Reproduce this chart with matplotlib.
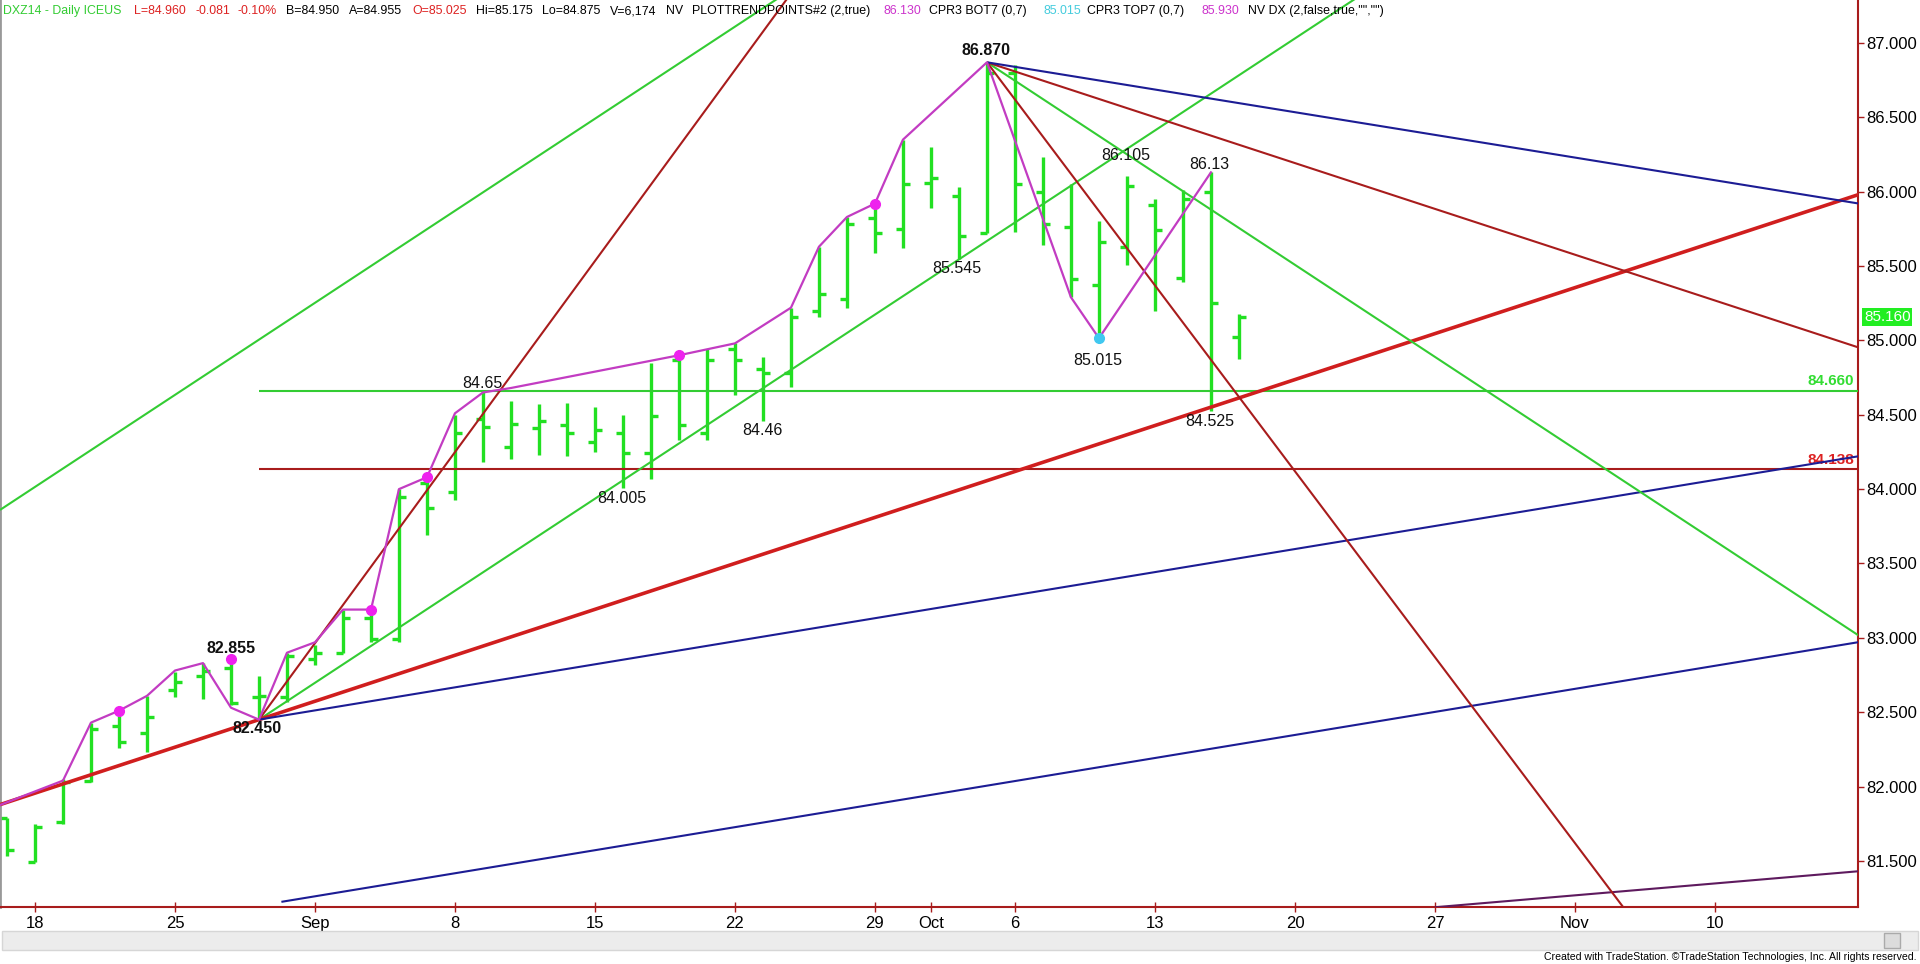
import matplotlib
matplotlib.use("Agg")
import matplotlib.pyplot as plt
import numpy as np
from matplotlib import font_manager
from matplotlib.font_manager import FontProperties
from matplotlib.patches import Rectangle

# ---- data (x = trading-day index, 0 = Mon Aug 18 2014) ----
bar_idx = list(range(-1, 44))
opens = [81.79, 81.49, 81.76, 82.04, 82.41, 82.36, 82.65, 82.74, 82.80, 82.60,
         82.60, 82.86, 82.90, 83.13, 82.99, 84.04, 83.98, 84.47, 84.28, 84.41,
         84.43, 84.32, 84.38, 84.24, 84.87, 84.38, 84.94, 84.81, 84.78, 85.20,
         85.28, 85.82, 85.75, 86.06, 85.97, 85.72, 86.80, 86.00, 85.76, 85.37,
         85.63, 85.91, 85.42, 86.00, 85.025]
highs = [81.79, 81.75, 82.05, 82.43, 82.51, 82.61, 82.77, 82.83, 82.84, 82.74,
         82.90, 82.95, 83.19, 83.17, 84.00, 84.07, 84.50, 84.65, 84.59, 84.57,
         84.58, 84.55, 84.50, 84.85, 84.88, 84.94, 84.98, 84.89, 85.22, 85.63,
         85.83, 85.92, 86.35, 86.30, 86.03, 86.87, 86.85, 86.23, 86.05, 85.80,
         86.105, 85.95, 86.01, 86.13, 85.175]
lows = [81.53, 81.49, 81.75, 82.03, 82.26, 82.23, 82.60, 82.59, 82.55, 82.45,
        82.57, 82.82, 82.90, 82.97, 82.97, 83.69, 83.93, 84.18, 84.20, 84.23,
        84.22, 84.25, 84.005, 84.07, 84.33, 84.33, 84.63, 84.46, 84.69, 85.16,
        85.22, 85.59, 85.62, 85.89, 85.545, 85.72, 85.73, 85.64, 85.29, 85.015,
        85.51, 85.20, 85.39, 84.525, 84.875]
closes = [81.57, 81.73, 82.03, 82.39, 82.30, 82.47, 82.70, 82.78, 82.56, 82.61,
          82.88, 82.90, 83.13, 82.99, 83.95, 83.87, 84.38, 84.42, 84.44, 84.46,
          84.38, 84.40, 84.24, 84.49, 84.43, 84.87, 84.87, 84.78, 85.16, 85.31,
          85.78, 85.72, 86.05, 86.09, 85.70, 86.80, 86.05, 85.78, 85.41, 85.66,
          86.04, 85.74, 85.95, 85.25, 85.16]

date_ticks = [0, 5, 10, 15, 20, 25, 30, 32, 35, 40, 45, 50, 55, 60]
date_labels = ["18", "25", "Sep", "8", "15", "22", "29", "Oct", "6", "13",
               "20", "27", "Nov", "10"]
price_ticks = [81.5, 82.0, 82.5, 83.0, 83.5, 84.0, 84.5, 85.0, 85.5, 86.0, 86.5, 87.0]

# swing line (zigzag) and pivot dots
swing_x = [-1.25, 1, 2, 3, 4, 5, 6, 7, 8, 9, 10, 11, 12, 13, 14, 15, 16, 17,
           23, 25, 27, 28, 29, 30, 31, 34, 37, 38, 42]
swing_y = [81.876, 82.04, 82.43, 82.51, 82.61, 82.78, 82.83, 82.53, 82.45, 82.90,
           82.97, 83.19, 83.19, 84.00, 84.08, 84.51, 84.65, 84.68,
           84.90, 84.98, 85.22, 85.63, 85.83, 85.92, 86.35, 86.87, 85.29, 85.015, 86.13]
dot_x = [3, 7, 12, 14, 23, 30]
dot_y = [82.51, 82.86, 83.19, 84.08, 84.90, 85.92]
low_dot_x = [38]
low_dot_y = [85.015]

# pivot labels: (index, price, text)
pivot_idx = [7, 8, 16, 21, 26, 33, 34, 39, 42, 38, 42]
pivot_price = [82.855, 82.45, 84.65, 84.005, 84.46, 85.545, 86.87, 86.105, 86.13, 85.015, 84.525]
pivot_text = ["82.855", "82.450", "84.65", "84.005", "84.46", "85.545", "86.870",
              "86.105", "86.13", "85.015", "84.525"]
pivot_bold = [True, True, False, False, False, False, True, False, False, False, False]

# trend lines: anchor index, anchor price, slope per bar, first index drawn
line_anchor_x = [8, -1.25, 8, 8, 8, 65.1, 65.1, 34, 34, 34, 34]
line_anchor_y = [82.45, 83.86, 82.45, 82.45, 82.45, 82.97, 81.43, 86.87, 86.87, 86.87, 86.87]
line_slope = [0.1238, 0.1238, 0.257, 0.0618, 0.031, 0.031, 0.016, -0.1238, -0.25, -0.0616, -0.0305]
line_start = [8, -1.25, 8, -1.25, 8, 8.8, 50, 34, 34, 34, 34]
line_color = ["#33cc33", "#33cc33", "#a81c1c", "#d01e1e", "#1c1c94", "#1c1c94",
              "#5e1a5e", "#33cc33", "#a81c1c", "#a81c1c", "#1c1c94"]
line_width = [1.5, 1.5, 1.5, 2.6, 1.5, 1.5, 1.5, 1.5, 1.5, 1.5, 1.5]

support_level = 84.660
resist_level = 84.138
last_price = 85.160

header = [
    (3, "DXZ14 - Daily ICEUS", "#33cc33"),
    (134, "L=84.960", "#dd2222"),
    (195, "-0.081", "#dd2222"),
    (237, "-0.10%", "#dd2222"),
    (286, "B=84.950", "black"),
    (349, "A=84.955", "black"),
    (412, "O=85.025", "#dd2222"),
    (476, "Hi=85.175", "black"),
    (542, "Lo=84.875", "black"),
    (610, "V=6,174", "black"),
    (666, "NV", "black"),
    (692, "PLOTTRENDPOINTS#2 (2,true)", "black"),
    (883, "86.130", "#cc33cc"),
    (929, "CPR3 BOT7 (0,7)", "black"),
    (1043, "85.015", "#44ccdd"),
    (1087, "CPR3 TOP7 (0,7)", "black"),
    (1202, "85.930", "#cc33cc"),
    (1248, 'NV DX (2,false,true,"","")', "black"),
]


def has_font(name):
    try:
        font_manager.findfont(FontProperties(family=name), fallback_to_default=False)
        return True
    except ValueError:
        return False


plt.rcParams["font.family"] = ["Liberation Sans", "DejaVu Sans"]
narrow = "Liberation Sans Narrow" if has_font("Liberation Sans Narrow") else "Liberation Sans"
hdr_size = 10 if narrow == "Liberation Sans Narrow" else 8.9

W, H = 1920, 964
fig = plt.figure(figsize=(W / 100, H / 100), dpi=100)
fig.patch.set_facecolor("white")
plot_bottom = 907
plot_right = 1858
ax = fig.add_axes([0, 1 - plot_bottom / H, plot_right / W, plot_bottom / H])

xmin, xmax = -1.25, 65.11
ax.set_xlim(xmin, xmax)
ax.set_ylim(81.19, 87.289)

# bars
w = 0.26
green = "#22e022"
ax.vlines(bar_idx, lows, highs, color=green, lw=2.4, zorder=2)
ax.hlines(opens, np.array(bar_idx) - w, bar_idx, color=green, lw=2.4, zorder=2)
ax.hlines(closes, bar_idx, np.array(bar_idx) + w, color=green, lw=2.4, zorder=2)

# horizontal levels
ax.hlines(support_level, 8, xmax, color="#33cc33", lw=1.5, zorder=3)
ax.hlines(resist_level, 8, xmax, color="#a81c1c", lw=1.5, zorder=3)

# trend lines
for ax0, ay0, s, st, c, lw in zip(line_anchor_x, line_anchor_y, line_slope,
                                   line_start, line_color, line_width):
    xs = np.array([st, xmax + 1])
    ax.plot(xs, ay0 + s * (xs - ax0), color=c, lw=lw, zorder=3, solid_capstyle="butt")

# swing line and pivots
ax.plot(swing_x, swing_y, color="#c23cc2", lw=1.6, zorder=4)
ax.plot(dot_x, dot_y, "o", color="#ee22ee", ms=7, zorder=5)
ax.plot(low_dot_x, low_dot_y, "o", color="#40c8f0", ms=7, zorder=5)

offsets = [(0, 11), (-2, -9), (-1, 9), (-1, -10), (-1, -10), (-2, -9), (-1, 12),
           (-1, 21), (-2, 8), (-1, -22), (-1, -10)]
for px, pp, t, b, (dx, dy) in zip(pivot_idx, pivot_price, pivot_text, pivot_bold, offsets):
    ax.annotate(t, (px, pp), xytext=(dx * 0.72, dy * 0.72), textcoords="offset points",
                ha="center", va="center", fontsize=11.5,
                fontweight="bold" if b else "normal", color="#111111", zorder=6)

# level labels on the right
ax.annotate(f"{support_level:.3f}", (xmax, support_level), xytext=(-3, 7),
            textcoords="offset points", ha="right", va="center", fontsize=11,
            fontweight="bold", color="#33dd33", zorder=6)
ax.annotate(f"{resist_level:.3f}", (xmax, resist_level), xytext=(-3, 6),
            textcoords="offset points", ha="right", va="center", fontsize=11,
            fontweight="bold", color="#dd2222", zorder=2.5)

# axes styling
axis_red = "#a81c1c"
ax.spines["top"].set_visible(False)
ax.spines["right"].set_color(axis_red)
ax.spines["right"].set_linewidth(1.5)
ax.spines["bottom"].set_color(axis_red)
ax.spines["bottom"].set_linewidth(1.5)
ax.spines["left"].set_color("#999999")
ax.spines["left"].set_linewidth(2)

ax.yaxis.tick_right()
ax.set_yticks(price_ticks)
ax.set_yticklabels([f"{v:.3f}" for v in price_ticks])
ax.tick_params(axis="y", right=True, left=False, length=4, width=1, color=axis_red,
               pad=2, labelsize=12, labelcolor="black")
ax.set_xticks(date_ticks)
ax.set_xticklabels(date_labels)
ax.tick_params(axis="x", direction="inout", length=7, width=1, color=axis_red,
               pad=3, labelsize=12, labelcolor="black")

# last price tag
fig.text(1864 / W, 1 - 317 / H, f"{last_price:.3f}", ha="left", va="center",
         fontsize=11, color="white",
         bbox=dict(boxstyle="square,pad=0.12", fc="#22ee22", ec="none"))

# header line
for x0, txt, col in header:
    fig.text(x0 / W, 1 - 11 / H, txt, ha="left", va="center", fontsize=hdr_size,
             color=col, family=narrow)

# scrollbar strip and credit line
fig.patches.append(Rectangle((2 / W, 1 - 950 / H), 1916 / W, 19 / H,
                             transform=fig.transFigure, fc="#ececec", ec="#d6d6d6", lw=1))
fig.patches.append(Rectangle((1884 / W, 1 - 948 / H), 16 / W, 15 / H,
                             transform=fig.transFigure, fc="#dcdcdc", ec="#aaaaaa", lw=1))
fig.text(1916 / W, 1 - 957 / H,
         "Created with TradeStation. \u00a9TradeStation Technologies, Inc. All rights reserved.",
         ha="right", va="center", fontsize=hdr_size * 0.85, color="black", family=narrow)

fig.savefig("out.png", dpi=100)
